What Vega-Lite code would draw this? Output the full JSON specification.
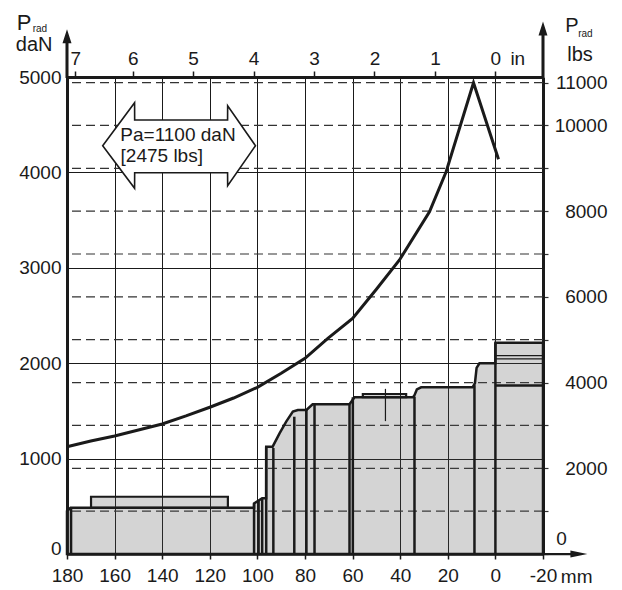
{
  "$schema": "https://vega.github.io/schema/vega-lite/v6.json",
  "width": 476,
  "height": 477,
  "autosize": "none",
  "padding": {"left": 67, "top": 77, "right": 79, "bottom": 36},
  "background": "white",
  "config": {"view": {"stroke": null}, "font": "Liberation Sans"},
  "datasets": {
    "profile": [
      {"mm": -20, "daN": 2215}, {"mm": 0, "daN": 2215}, {"mm": 0.03, "daN": 1999}, {"mm": 6.7, "daN": 1999},
      {"mm": 7.9, "daN": 1950}, {"mm": 8.6, "daN": 1790}, {"mm": 9.6, "daN": 1747}, {"mm": 31.2, "daN": 1747},
      {"mm": 33.0, "daN": 1725}, {"mm": 34.0, "daN": 1665}, {"mm": 34.6, "daN": 1643}, {"mm": 59.2, "daN": 1643},
      {"mm": 61.3, "daN": 1569}, {"mm": 76.8, "daN": 1569}, {"mm": 79.4, "daN": 1509}, {"mm": 83.0, "daN": 1509},
      {"mm": 85.1, "daN": 1492}, {"mm": 87.9, "daN": 1387}, {"mm": 90.7, "daN": 1265}, {"mm": 93.6, "daN": 1125},
      {"mm": 96.3, "daN": 1125}, {"mm": 96.33, "daN": 584}, {"mm": 98.0, "daN": 584}, {"mm": 101.4, "daN": 530},
      {"mm": 101.43, "daN": 485}, {"mm": 178.5, "daN": 485}, {"mm": 180, "daN": 450}
    ],
    "curve": [
      {"i": 1, "mm": 180, "daN": 1125}, {"i": 2, "mm": 170, "daN": 1184}, {"i": 3, "mm": 160, "daN": 1237},
      {"i": 4, "mm": 150, "daN": 1300}, {"i": 5, "mm": 140, "daN": 1363}, {"i": 6, "mm": 130, "daN": 1447},
      {"i": 7, "mm": 120, "daN": 1538}, {"i": 8, "mm": 110, "daN": 1635}, {"i": 9, "mm": 100, "daN": 1747},
      {"i": 10, "mm": 90, "daN": 1894}, {"i": 11, "mm": 80, "daN": 2051}, {"i": 12, "mm": 70.4, "daN": 2261},
      {"i": 13, "mm": 60, "daN": 2470}, {"i": 14, "mm": 50, "daN": 2775}, {"i": 15, "mm": 40.3, "daN": 3082},
      {"i": 16, "mm": 27.7, "daN": 3588}, {"i": 17, "mm": 20.7, "daN": 4007}, {"i": 18, "mm": 9.2, "daN": 4940},
      {"i": 19, "mm": -1.3, "daN": 4137}
    ],
    "vlines": [
      {"mm": 178.3, "lo": 0, "top": 485}, {"mm": 101.4, "lo": 0, "top": 530}, {"mm": 99.5, "lo": 0, "top": 557},
      {"mm": 98.0, "lo": 0, "top": 584}, {"mm": 96.3, "lo": 0, "top": 1125}, {"mm": 93.3, "lo": 0, "top": 1111},
      {"mm": 84.5, "lo": 0, "top": 1439}, {"mm": 79.4, "lo": 0, "top": 1509}, {"mm": 76.0, "lo": 0, "top": 1569},
      {"mm": 61.3, "lo": 0, "top": 1569}, {"mm": 59.9, "lo": 0, "top": 1643}, {"mm": 34.0, "lo": 0, "top": 1650},
      {"mm": 8.8, "lo": 0, "top": 1770}, {"mm": 0, "lo": 0, "top": 2215}
    ],
    "thinv": [{"mm": 46.2, "lo": 1393, "top": 1731}],
    "hthin": [{"daN": 2080, "from": 0, "to": -20}, {"daN": 2046, "from": 0, "to": -20}],
    "hthick": [{"daN": 1765, "from": 0, "to": -20}],
    "plates": [
      {"a": 169.9, "b": 112.4, "lo": 485, "hi": 600},
      {"a": 55.7, "b": 37.5, "lo": 1643, "hi": 1677}
    ],
    "arrow": [
      {"mm": 100.8, "top": 4280, "bot": 4280},
      {"mm": 112.5, "top": 4699, "bot": 3861},
      {"mm": 112.53, "top": 4549, "bot": 3997},
      {"mm": 151.57, "top": 4549, "bot": 3997},
      {"mm": 151.6, "top": 4731, "bot": 3833},
      {"mm": 165.0, "top": 4280, "bot": 4280}
    ],
    "lbs": [
      {"lbs": 1000}, {"lbs": 2000}, {"lbs": 3000}, {"lbs": 4000}, {"lbs": 5000}, {"lbs": 6000},
      {"lbs": 7000}, {"lbs": 8000}, {"lbs": 9000}, {"lbs": 10000}, {"lbs": 11000}
    ]
  },
  "layer": [
    {
      "data": {"name": "lbs"},
      "mark": {"type": "rule", "strokeDash": [9, 5], "color": "#333333", "strokeWidth": 1.2},
      "encoding": {
        "y": {
          "field": "lbs", "type": "quantitative",
          "scale": {"domain": [0, 11130], "nice": false, "zero": false},
          "axis": {
            "orient": "right", "title": null, "grid": false,
            "values": [0, 1000, 2000, 3000, 4000, 5000, 6000, 7000, 8000, 9000, 10000, 11000],
            "labelExpr": "indexof([2000,4000,6000,8000,10000,11000], datum.value) >= 0 ? format(datum.value, 'd') : ''",
            "domainWidth": 3, "domainColor": "#1a1a1a",
            "tickSize": 5, "tickWidth": 1.2, "tickColor": "#333333",
            "labelFontSize": 19, "labelFont": "Liberation Sans", "labelColor": "#1a1a1a",
            "labelOverlap": false, "labelFlush": false,
            "labelAlign": "right", "labelPadding": 59
          }
        }
      }
    },
    {
      "data": {"name": "profile"},
      "mark": {"type": "area", "fill": "#535353", "fillOpacity": 0.25, "stroke": "#1a1a1a", "strokeWidth": 2.5, "strokeJoin": "miter"},
      "encoding": {
        "x": {
          "field": "mm", "type": "quantitative",
          "scale": {"domain": [-20, 180], "reverse": true, "nice": false, "zero": false},
          "axis": {
            "orient": "bottom", "title": null,
            "values": [180, 160, 140, 120, 100, 80, 60, 40, 20, 0, -20],
            "labelExpr": "'' + datum.value",
            "grid": true, "gridColor": "#1a1a1a", "gridWidth": 1, "gridOpacity": 1,
            "domainWidth": 2.5, "domainColor": "#1a1a1a",
            "tickSize": 5, "tickWidth": 1.5, "tickColor": "#1a1a1a",
            "labelFontSize": 19, "labelFont": "Liberation Sans", "labelColor": "#1a1a1a",
            "labelPadding": 7, "labelFlush": false, "labelOverlap": false
          }
        },
        "y": {
          "field": "daN", "type": "quantitative", "stack": null,
          "scale": {"domain": [0, 5000], "nice": false, "zero": false},
          "axis": {
            "orient": "left", "title": null,
            "values": [0, 1000, 2000, 3000, 4000, 5000],
            "format": "d",
            "grid": true, "gridColor": "#1a1a1a", "gridWidth": 1, "gridOpacity": 1,
            "domainWidth": 3, "domainColor": "#1a1a1a",
            "tickSize": 0,
            "labelFontSize": 19, "labelFont": "Liberation Sans", "labelColor": "#1a1a1a",
            "labelPadding": 6, "labelFlush": false, "labelOverlap": false,
            "labelOffset": {"condition": {"test": "datum.value === 0", "value": -6}, "value": 0}
          }
        }
      }
    },
    {
      "data": {"name": "plates"},
      "mark": {"type": "rect", "fill": "#535353", "fillOpacity": 0.25, "stroke": "#1a1a1a", "strokeWidth": 2.2},
      "encoding": {
        "x": {"field": "a", "type": "quantitative", "scale": {"domain": [-20, 180], "reverse": true, "nice": false, "zero": false}, "axis": null},
        "x2": {"field": "b"},
        "y": {"field": "lo", "type": "quantitative", "scale": {"domain": [0, 5000], "nice": false, "zero": false}, "axis": null},
        "y2": {"field": "hi"}
      }
    },
    {
      "data": {"name": "vlines"},
      "mark": {"type": "rule", "color": "#1a1a1a", "strokeWidth": 2.5},
      "encoding": {
        "x": {"field": "mm", "type": "quantitative", "scale": {"domain": [-20, 180], "reverse": true, "nice": false, "zero": false}, "axis": null},
        "y": {"field": "lo", "type": "quantitative", "scale": {"domain": [0, 5000], "nice": false, "zero": false}, "axis": null},
        "y2": {"field": "top"}
      }
    },
    {
      "data": {"name": "thinv"},
      "mark": {"type": "rule", "color": "#1a1a1a", "strokeWidth": 1.2},
      "encoding": {
        "x": {"field": "mm", "type": "quantitative", "scale": {"domain": [-20, 180], "reverse": true, "nice": false, "zero": false}, "axis": null},
        "y": {"field": "lo", "type": "quantitative", "scale": {"domain": [0, 5000], "nice": false, "zero": false}, "axis": null},
        "y2": {"field": "top"}
      }
    },
    {
      "data": {"name": "hthin"},
      "mark": {"type": "rule", "color": "#1a1a1a", "strokeWidth": 1.2},
      "encoding": {
        "x": {"field": "from", "type": "quantitative", "scale": {"domain": [-20, 180], "reverse": true, "nice": false, "zero": false}, "axis": null},
        "x2": {"field": "to"},
        "y": {"field": "daN", "type": "quantitative", "scale": {"domain": [0, 5000], "nice": false, "zero": false}, "axis": null}
      }
    },
    {
      "data": {"name": "hthick"},
      "mark": {"type": "rule", "color": "#1a1a1a", "strokeWidth": 2.5},
      "encoding": {
        "x": {"field": "from", "type": "quantitative", "scale": {"domain": [-20, 180], "reverse": true, "nice": false, "zero": false}, "axis": null},
        "x2": {"field": "to"},
        "y": {"field": "daN", "type": "quantitative", "scale": {"domain": [0, 5000], "nice": false, "zero": false}, "axis": null}
      }
    },
    {
      "data": {"name": "curve"},
      "mark": {"type": "line", "color": "#1a1a1a", "strokeWidth": 3},
      "encoding": {
        "x": {
          "field": "mm", "type": "quantitative",
          "scale": {"domain": [-20, 180], "reverse": true, "nice": false, "zero": false},
          "axis": {
            "orient": "top", "title": null, "grid": false,
            "values": [176.5, 152.4, 127, 101.6, 76.2, 50.8, 25.4, 0],
            "labelExpr": "format(round(datum.value / 25.4), 'd')",
            "domainWidth": 3, "domainColor": "#1a1a1a",
            "tickSize": 6, "tickWidth": 1.5, "tickColor": "#1a1a1a",
            "labelFontSize": 19, "labelFont": "Liberation Sans", "labelColor": "#1a1a1a",
            "labelPadding": 3, "labelFlush": false, "labelOverlap": false
          }
        },
        "y": {"field": "daN", "type": "quantitative", "scale": {"domain": [0, 5000], "nice": false, "zero": false}, "axis": null},
        "order": {"field": "i", "type": "quantitative"}
      }
    },
    {
      "data": {"name": "arrow"},
      "mark": {"type": "area", "fill": "white", "fillOpacity": 1, "stroke": "#1a1a1a", "strokeWidth": 1.6, "strokeJoin": "miter"},
      "encoding": {
        "x": {"field": "mm", "type": "quantitative", "scale": {"domain": [-20, 180], "reverse": true, "nice": false, "zero": false}, "axis": null},
        "y": {"field": "top", "type": "quantitative", "scale": {"domain": [0, 5000], "nice": false, "zero": false}, "axis": null},
        "y2": {"field": "bot"}
      }
    },
    {
      "data": {"values": [{}]},
      "mark": {"type": "text", "align": "left", "baseline": "middle", "fontSize": 19, "font": "Liberation Sans", "color": "#1a1a1a", "text": "Pa=1100 daN"},
      "encoding": {
        "x": {"datum": 157.6, "type": "quantitative", "scale": {"domain": [-20, 180], "reverse": true, "nice": false, "zero": false}, "axis": null},
        "y": {"datum": 4392, "type": "quantitative", "scale": {"domain": [0, 5000], "nice": false, "zero": false}, "axis": null}
      }
    },
    {
      "data": {"values": [{}]},
      "mark": {"type": "text", "align": "left", "baseline": "middle", "fontSize": 19, "font": "Liberation Sans", "color": "#1a1a1a", "text": "[2475 lbs]"},
      "encoding": {
        "x": {"datum": 157.5, "type": "quantitative", "scale": {"domain": [-20, 180], "reverse": true, "nice": false, "zero": false}, "axis": null},
        "y": {"datum": 4175, "type": "quantitative", "scale": {"domain": [0, 5000], "nice": false, "zero": false}, "axis": null}
      }
    },
    {
      "data": {"values": [{}]},
      "mark": {"type": "text", "align": "left", "baseline": "middle", "fontSize": 22, "font": "Liberation Sans", "color": "#1a1a1a", "text": "P"},
      "encoding": {
        "x": {"datum": 201.1, "type": "quantitative", "scale": {"domain": [-20, 180], "reverse": true, "nice": false, "zero": false}, "axis": null},
        "y": {"datum": 5570, "type": "quantitative", "scale": {"domain": [0, 5000], "nice": false, "zero": false}, "axis": null}
      }
    },
    {
      "data": {"values": [{}]},
      "mark": {"type": "text", "align": "left", "baseline": "middle", "fontSize": 10, "font": "Liberation Sans", "color": "#1a1a1a", "text": "rad"},
      "encoding": {
        "x": {"datum": 194.4, "type": "quantitative", "scale": {"domain": [-20, 180], "reverse": true, "nice": false, "zero": false}, "axis": null},
        "y": {"datum": 5508, "type": "quantitative", "scale": {"domain": [0, 5000], "nice": false, "zero": false}, "axis": null}
      }
    },
    {
      "data": {"values": [{}]},
      "mark": {"type": "text", "align": "left", "baseline": "middle", "fontSize": 20, "font": "Liberation Sans", "color": "#1a1a1a", "text": "daN"},
      "encoding": {
        "x": {"datum": 201.5, "type": "quantitative", "scale": {"domain": [-20, 180], "reverse": true, "nice": false, "zero": false}, "axis": null},
        "y": {"datum": 5335, "type": "quantitative", "scale": {"domain": [0, 5000], "nice": false, "zero": false}, "axis": null}
      }
    },
    {
      "data": {"values": [{}]},
      "mark": {"type": "text", "align": "left", "baseline": "middle", "fontSize": 20, "font": "Liberation Sans", "color": "#1a1a1a", "text": "P"},
      "encoding": {
        "x": {"datum": -29.4, "type": "quantitative", "scale": {"domain": [-20, 180], "reverse": true, "nice": false, "zero": false}, "axis": null},
        "y": {"datum": 5535, "type": "quantitative", "scale": {"domain": [0, 5000], "nice": false, "zero": false}, "axis": null}
      }
    },
    {
      "data": {"values": [{}]},
      "mark": {"type": "text", "align": "left", "baseline": "middle", "fontSize": 10, "font": "Liberation Sans", "color": "#1a1a1a", "text": "rad"},
      "encoding": {
        "x": {"datum": -34.8, "type": "quantitative", "scale": {"domain": [-20, 180], "reverse": true, "nice": false, "zero": false}, "axis": null},
        "y": {"datum": 5450, "type": "quantitative", "scale": {"domain": [0, 5000], "nice": false, "zero": false}, "axis": null}
      }
    },
    {
      "data": {"values": [{}]},
      "mark": {"type": "text", "align": "left", "baseline": "middle", "fontSize": 20, "font": "Liberation Sans", "color": "#1a1a1a", "text": "lbs"},
      "encoding": {
        "x": {"datum": -30.2, "type": "quantitative", "scale": {"domain": [-20, 180], "reverse": true, "nice": false, "zero": false}, "axis": null},
        "y": {"datum": 5231, "type": "quantitative", "scale": {"domain": [0, 5000], "nice": false, "zero": false}, "axis": null}
      }
    },
    {
      "data": {"values": [{}]},
      "mark": {"type": "text", "align": "left", "baseline": "middle", "fontSize": 19, "font": "Liberation Sans", "color": "#1a1a1a", "text": "in"},
      "encoding": {
        "x": {"datum": -6.3, "type": "quantitative", "scale": {"domain": [-20, 180], "reverse": true, "nice": false, "zero": false}, "axis": null},
        "y": {"datum": 5189, "type": "quantitative", "scale": {"domain": [0, 5000], "nice": false, "zero": false}, "axis": null}
      }
    },
    {
      "data": {"values": [{}]},
      "mark": {"type": "text", "align": "left", "baseline": "middle", "fontSize": 19, "font": "Liberation Sans", "color": "#1a1a1a", "text": "mm"},
      "encoding": {
        "x": {"datum": -27.5, "type": "quantitative", "scale": {"domain": [-20, 180], "reverse": true, "nice": false, "zero": false}, "axis": null},
        "y": {"datum": -236, "type": "quantitative", "scale": {"domain": [0, 5000], "nice": false, "zero": false}, "axis": null}
      }
    },
    {
      "data": {"values": [{}]},
      "mark": {"type": "text", "align": "left", "baseline": "middle", "fontSize": 19, "font": "Liberation Sans", "color": "#1a1a1a", "text": "0"},
      "encoding": {
        "x": {"datum": -25.6, "type": "quantitative", "scale": {"domain": [-20, 180], "reverse": true, "nice": false, "zero": false}, "axis": null},
        "y": {"datum": 157, "type": "quantitative", "scale": {"domain": [0, 5000], "nice": false, "zero": false}, "axis": null}
      }
    },
    {
      "data": {"values": [{}]},
      "mark": {"type": "point", "shape": "M0,-1L0.185,-0.425L0.062,-0.425L0.062,1L-0.062,1L-0.062,-0.425L-0.185,-0.425Z", "size": 2372, "filled": true, "color": "#1a1a1a", "opacity": 1, "strokeWidth": 0},
      "encoding": {
        "x": {"datum": 180, "type": "quantitative", "scale": {"domain": [-20, 180], "reverse": true, "nice": false, "zero": false}, "axis": null},
        "y": {"datum": 5245, "type": "quantitative", "scale": {"domain": [0, 5000], "nice": false, "zero": false}, "axis": null}
      }
    },
    {
      "data": {"values": [{}]},
      "mark": {"type": "point", "shape": "M0,-1L0.16,-0.5L0.054,-0.5L0.054,1L-0.054,1L-0.054,-0.5L-0.16,-0.5Z", "size": 3136, "filled": true, "color": "#1a1a1a", "opacity": 1, "strokeWidth": 0},
      "encoding": {
        "x": {"datum": -20, "type": "quantitative", "scale": {"domain": [-20, 180], "reverse": true, "nice": false, "zero": false}, "axis": null},
        "y": {"datum": 5288, "type": "quantitative", "scale": {"domain": [0, 5000], "nice": false, "zero": false}, "axis": null}
      }
    },
    {
      "data": {"values": [{}]},
      "mark": {"type": "point", "shape": "M1,0L0.245,-0.155L0.245,-0.05L-1,-0.05L-1,0.05L0.245,0.05L0.245,0.155Z", "size": 2025, "filled": true, "color": "#1a1a1a", "opacity": 1, "strokeWidth": 0},
      "encoding": {
        "x": {"datum": -29.2, "type": "quantitative", "scale": {"domain": [-20, 180], "reverse": true, "nice": false, "zero": false}, "axis": null},
        "y": {"datum": 0, "type": "quantitative", "scale": {"domain": [0, 5000], "nice": false, "zero": false}, "axis": null}
      }
    }
  ],
  "resolve": {"scale": {"y": "independent"}, "axis": {"x": "independent", "y": "independent"}}
}
